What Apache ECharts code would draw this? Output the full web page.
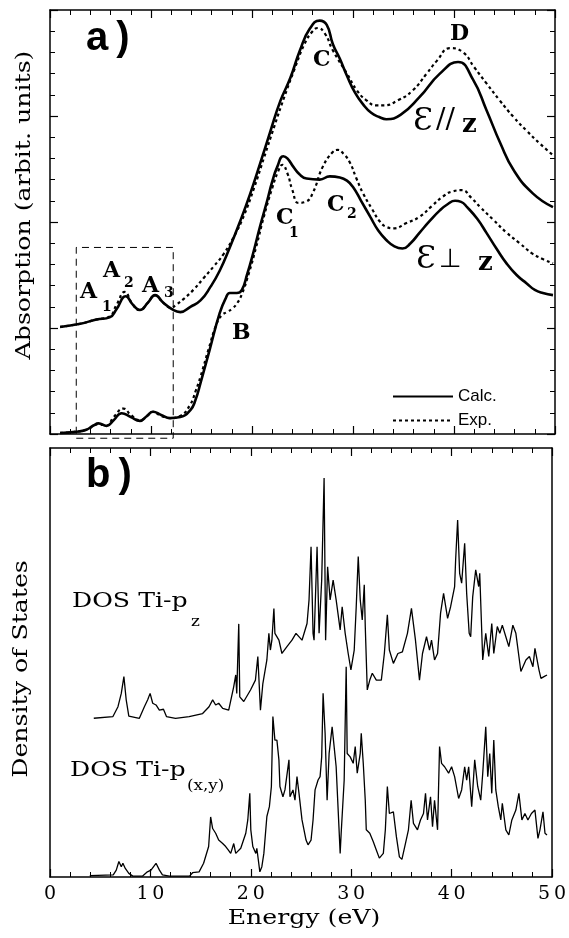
<!DOCTYPE html>
<html><head><meta charset="utf-8">
<script src="https://cdn.jsdelivr.net/npm/echarts@6/dist/echarts.min.js"></script>
<style>html,body{margin:0;padding:0;background:#fff}#c{width:569px;height:938px}</style>
</head><body><div id="c"></div>
<script>
// ---------- tick labels ----------
const xTickLabels = ['0', '10', '20', '30', '40', '50'];
const legendNames = ['Calc.', 'Exp.'];

// ---------- panel a : absorption, E // z ----------
const parCalcE = [1.0, 3.0, 4.6, 5.9, 6.6, 7.5, 8.2, 8.9, 9.7, 10.4, 11.2, 12.2, 12.9, 13.9, 14.9, 15.9, 16.8, 17.8, 18.8, 19.8, 20.8, 21.8, 22.8, 23.8, 24.75, 25.7, 26.7, 27.4, 28.0, 28.7, 29.4, 30.2, 31.0, 31.8, 32.6, 33.3, 34.7, 36.6, 38.6, 40.4, 41.9, 43.2, 44.6, 45.9, 47.8, 49.8];
const parCalcY = [5.05, 5.2, 5.4, 5.5, 5.9, 6.5, 6.1, 5.85, 6.2, 6.55, 6.2, 5.85, 5.75, 6.0, 6.3, 6.95, 7.7, 8.8, 10.0, 11.3, 12.75, 14.25, 15.7, 16.8, 18.1, 19.1, 19.5, 19.3, 18.4, 17.7, 16.9, 16.1, 15.55, 15.15, 14.95, 14.85, 15.05, 15.9, 17.0, 17.55, 16.7, 15.3, 13.7, 12.45, 11.35, 10.7];
const parExpE = [1.0, 3.0, 4.6, 5.9, 6.6, 7.4, 8.2, 8.9, 9.7, 10.4, 11.2, 12.0, 12.5, 13.3, 14.2, 15.2, 16.2, 17.2, 18.2, 19.2, 20.2, 21.2, 22.2, 23.2, 24.2, 25.2, 26.0, 26.5, 27.2, 28.0, 29.4, 30.4, 31.3, 32.3, 33.0, 34.5, 35.9, 37.3, 38.3, 39.6, 40.9, 42.0, 43.2, 44.5, 45.9, 47.2, 48.5, 49.8];
const parExpY = [5.05, 5.2, 5.4, 5.55, 6.1, 6.7, 6.1, 5.85, 6.2, 6.55, 6.2, 5.95, 6.1, 6.4, 6.8, 7.35, 7.9, 8.5, 9.3, 10.3, 11.6, 13.05, 14.5, 15.9, 17.2, 18.4, 19.0, 19.15, 18.9, 18.1, 17.0, 16.2, 15.75, 15.5, 15.5, 15.75, 16.2, 17.0, 17.6, 18.2, 18.0, 17.3, 16.55, 15.75, 14.95, 14.3, 13.7, 13.15];

// ---------- panel a : absorption, E perp z ----------
const perpCalcE = [1.0, 2.5, 3.6, 4.3, 4.8, 5.6, 6.3, 7.1, 8.0, 8.9, 9.6, 10.2, 11.0, 11.9, 12.9, 13.9, 14.4, 14.9, 15.8, 16.8, 17.4, 17.8, 18.5, 19.0, 19.5, 20.1, 20.8, 21.5, 22.0, 22.5, 23.1, 23.5, 24.1, 24.7, 25.4, 26.7, 27.7, 28.7, 29.4, 30.0, 30.8, 31.7, 32.5, 33.3, 34.1, 34.9, 35.7, 36.6, 37.6, 38.6, 39.4, 40.1, 40.7, 41.3, 42.3, 43.2, 44.2, 45.2, 46.2, 47.2, 48.0, 48.8, 49.8];
const perpCalcY = [0.05, 0.1, 0.2, 0.4, 0.5, 0.38, 0.65, 0.98, 0.8, 0.62, 0.85, 1.05, 0.9, 0.75, 0.8, 1.13, 1.6, 2.4, 3.96, 5.7, 6.4, 6.65, 6.65, 6.8, 7.5, 8.5, 9.8, 11.0, 11.9, 12.6, 13.1, 13.0, 12.6, 12.25, 12.05, 12.0, 12.15, 12.1, 11.95, 11.65, 11.0, 10.25, 9.6, 9.15, 8.85, 8.75, 9.0, 9.5, 10.05, 10.55, 10.85, 11.0, 10.95, 10.7, 10.15, 9.5, 8.75, 8.05, 7.5, 7.1, 6.8, 6.65, 6.55];
const perpExpE = [1.0, 2.5, 3.6, 4.8, 5.6, 6.3, 7.3, 8.0, 8.9, 9.6, 10.2, 11.0, 11.9, 12.9, 13.9, 14.4, 14.9, 15.7, 16.5, 17.0, 17.5, 18.0, 18.5, 19.0, 19.7, 20.4, 21.2, 22.0, 22.6, 23.0, 23.5, 24.0, 24.6, 25.3, 26.0, 27.0, 28.0, 28.5, 29.1, 29.7, 30.3, 31.0, 31.9, 32.7, 33.4, 34.0, 35.3, 36.6, 37.8, 38.9, 39.9, 40.8, 41.7, 42.6, 43.9, 45.2, 46.5, 47.8, 48.8, 49.8];
const perpExpY = [0.05, 0.1, 0.2, 0.45, 0.4, 0.8, 1.2, 0.9, 0.65, 0.85, 1.05, 0.85, 0.75, 0.85, 1.4, 2.0, 2.7, 4.0, 5.2, 5.6, 5.75, 5.9, 6.15, 6.6, 7.6, 8.8, 10.3, 11.6, 12.4, 12.7, 12.3, 11.5, 10.9, 10.95, 11.35, 12.6, 13.3, 13.4, 13.2, 12.8, 12.1, 11.35, 10.6, 10.0, 9.75, 9.7, 9.95, 10.25, 10.75, 11.2, 11.45, 11.5, 11.15, 10.7, 10.1, 9.5, 9.0, 8.5, 8.25, 8.05];

// ---------- panel a : dashed box around the A features (energy range, intensity range) ----------
const boxE = [2.6, 12.2];
const boxY = [-0.2, 8.8];

// ---------- panel b : DOS Ti-pz ----------
const dosZE = [4.36, 6.27, 6.77, 7.1, 7.36, 7.59, 7.85, 8.9, 9.4, 9.73, 9.97, 10.23, 10.56, 10.89, 11.3, 11.6, 12.5, 13.86, 15.2, 15.84, 16.2, 16.5, 16.8, 17.2, 17.8, 18.3, 18.5, 18.6, 18.8, 18.9, 19.3, 19.97, 20.46, 20.7, 20.96, 21.2, 21.6, 21.8, 21.95, 22.1, 22.3, 22.4, 22.8, 23.1, 23.6, 24.1, 24.5, 25.1, 25.6, 25.8, 26.0, 26.2, 26.3, 26.6, 26.8, 27.06, 27.3, 27.45, 27.65, 27.9, 28.0, 28.2, 28.5, 28.9, 29.1, 29.4, 29.7, 29.97, 30.3, 30.5, 30.7, 30.9, 31.1, 31.3, 31.4, 31.6, 31.85, 32.1, 32.5, 33.0, 33.3, 33.6, 33.8, 34.2, 34.65, 35.1, 35.6, 36.0, 36.4, 36.8, 37.1, 37.5, 37.8, 38.0, 38.3, 38.6, 38.9, 39.2, 39.6, 39.9, 40.3, 40.4, 40.6, 40.8, 41.0, 41.3, 41.5, 41.75, 41.9, 42.1, 42.4, 42.7, 42.8, 43.1, 43.4, 43.7, 44.0, 44.2, 44.55, 44.8, 45.05, 45.4, 45.7, 46.1, 46.4, 46.9, 47.4, 47.75, 48.1, 48.3, 48.7, 48.9, 49.2, 49.5];
const dosZY = [37.0, 37.4, 39.7, 42.8, 46.7, 41.3, 37.5, 37.0, 39.7, 41.3, 42.8, 40.5, 40.1, 38.9, 39.1, 37.4, 37.0, 37.4, 38.1, 39.7, 41.3, 40.1, 40.5, 39.3, 38.9, 44.4, 47.1, 42.8, 59.0, 42.0, 40.9, 43.6, 45.9, 51.4, 38.9, 45.1, 50.6, 56.8, 52.9, 55.2, 62.6, 56.8, 55.2, 52.1, 53.7, 55.2, 56.8, 55.2, 59.1, 64.6, 77.0, 56.8, 55.2, 77.0, 56.8, 69.2, 93.0, 55.2, 72.3, 64.6, 66.1, 69.2, 64.6, 57.6, 63.0, 56.8, 52.1, 48.3, 52.9, 63.0, 74.7, 64.6, 59.9, 68.1, 58.4, 43.6, 45.9, 47.5, 45.9, 45.9, 52.1, 61.1, 52.9, 49.8, 52.1, 52.5, 56.8, 62.6, 55.2, 45.9, 52.1, 56.0, 52.9, 55.2, 50.6, 52.1, 61.5, 66.1, 60.3, 63.0, 67.7, 73.9, 83.2, 70.8, 68.5, 77.8, 66.1, 56.8, 56.0, 65.3, 71.6, 67.7, 70.8, 50.6, 56.8, 51.4, 59.1, 52.1, 58.4, 56.8, 58.7, 56.0, 53.7, 58.7, 56.8, 47.9, 50.6, 51.4, 49.0, 53.3, 48.3, 46.3, 46.7, 47.1];

// ---------- panel b : DOS Ti-p(x,y) ----------
const dosXYE = [3.96, 6.3, 6.6, 6.86, 7.1, 7.26, 7.5, 7.85, 8.25, 9.2, 9.7, 10.06, 10.56, 10.9, 11.2, 11.9, 13.9, 14.2, 14.85, 15.3, 15.8, 16.0, 16.2, 16.5, 16.8, 17.2, 17.5, 17.75, 18.0, 18.3, 18.5, 19.0, 19.5, 19.7, 19.9, 20.0, 20.2, 20.5, 20.6, 20.9, 21.1, 21.3, 21.6, 21.85, 22.05, 22.2, 22.4, 22.6, 22.8, 22.9, 23.2, 23.4, 23.8, 23.9, 24.2, 24.4, 24.6, 24.8, 25.1, 25.5, 25.7, 26.0, 26.2, 26.4, 26.7, 26.9, 27.06, 27.2, 27.4, 27.6, 27.8, 28.1, 28.5, 28.9, 29.0, 29.3, 29.5, 29.6, 29.9, 30.2, 30.4, 30.6, 30.9, 31.0, 31.2, 31.4, 31.5, 31.85, 32.2, 32.5, 32.8, 33.2, 33.4, 33.6, 33.8, 34.2, 34.5, 34.8, 35.05, 35.4, 35.7, 35.97, 36.2, 36.6, 36.9, 37.2, 37.4, 37.6, 37.9, 38.1, 38.3, 38.6, 38.8, 39.0, 39.3, 39.7, 40.0, 40.3, 40.7, 41.0, 41.3, 41.5, 41.7, 42.0, 42.3, 42.6, 42.9, 43.1, 43.4, 43.6, 43.8, 44.0, 44.2, 44.4, 44.65, 44.9, 45.05, 45.4, 45.7, 46.0, 46.4, 46.7, 47.0, 47.3, 47.6, 47.95, 48.3, 48.6, 48.8, 49.1, 49.3, 49.5];
const dosXYY = [0.3, 0.5, 1.6, 3.6, 2.4, 3.2, 2.0, 0.85, 0.2, 0.2, 1.2, 1.6, 3.2, 1.6, 0.5, 0.2, 0.2, 1.0, 1.2, 3.2, 7.1, 14.0, 11.3, 10.2, 8.6, 7.8, 7.1, 6.3, 5.5, 7.8, 5.5, 6.7, 10.2, 13.3, 19.5, 11.0, 7.1, 5.5, 6.7, 1.2, 2.4, 5.5, 14.1, 16.4, 21.1, 37.4, 31.9, 31.9, 27.3, 21.1, 18.7, 20.3, 27.3, 18.7, 20.3, 17.9, 23.4, 19.5, 13.3, 8.6, 7.5, 8.6, 13.3, 20.3, 22.6, 23.4, 28.0, 42.8, 33.5, 17.9, 28.8, 35.0, 25.7, 5.5, 10.2, 22.6, 49.0, 28.8, 28.0, 26.5, 30.4, 24.2, 28.8, 33.5, 26.5, 17.9, 11.0, 10.2, 8.2, 6.3, 4.4, 5.5, 11.0, 21.1, 14.8, 15.2, 9.4, 4.7, 4.1, 7.8, 11.0, 17.9, 12.5, 11.0, 13.3, 14.8, 19.5, 13.3, 18.7, 11.7, 17.9, 11.0, 30.4, 26.5, 25.7, 24.2, 25.7, 23.4, 18.3, 20.3, 25.7, 22.6, 25.7, 16.4, 27.3, 21.1, 17.9, 24.2, 35.0, 23.4, 28.8, 19.5, 31.9, 20.3, 16.4, 13.3, 17.2, 11.0, 9.8, 13.3, 15.6, 19.5, 13.3, 14.8, 13.3, 14.8, 15.6, 9.0, 11.0, 15.2, 10.2, 9.8];

// ---------- build ----------
const zip = (xs, ys) => xs.map((x, i) => [x, ys[i]]);
const boxPath = [[boxE[0], boxY[0]], [boxE[1], boxY[0]], [boxE[1], boxY[1]], [boxE[0], boxY[1]], [boxE[0], boxY[0]]];

const K = '#000';
const serif = '"DejaVu Serif", "Liberation Serif", serif';
const sans = '"Liberation Sans", Arial, sans-serif';

function xAx(grid, pos, labels) {
  return {
    type: 'value', gridIndex: grid, position: pos, min: 0, max: 50, interval: 10,
    axisLine: { show: true, onZero: false, lineStyle: { color: K, width: 1.5 } },
    axisTick: { show: true, inside: true, length: 8, lineStyle: { color: K, width: 1.2 } },
    minorTick: { show: true, splitNumber: 5, length: 5, lineStyle: { color: K, width: 1 } },
    splitLine: { show: false },
    axisLabel: labels ? {
      show: true, margin: 8, color: K, fontFamily: serif, fontSize: 19,
      formatter: v => xTickLabels[Math.round(v / 10)].split('').join('\u2009')
    } : { show: false }
  };
}
function yAx(grid, pos, max, interval, ticks) {
  return {
    type: 'value', gridIndex: grid, position: pos, min: 0, max: max, interval: interval,
    axisLine: { show: true, onZero: false, lineStyle: { color: K, width: 1.5 } },
    axisTick: { show: ticks, inside: true, length: 8, lineStyle: { color: K, width: 1.2 } },
    minorTick: { show: ticks, splitNumber: 5, length: 5, lineStyle: { color: K, width: 1 } },
    splitLine: { show: false }, axisLabel: { show: false }
  };
}
function T(text, x, y, font, extra, align) {
  return Object.assign({ type: 'text', x: x, y: y, silent: true,
    style: { text: text, font: font, fill: K, align: align || 'left', verticalAlign: 'middle' } }, extra || {});
}

const calcLine = { color: K, width: 2.6, type: 'solid' };
const expLine = { color: K, width: 2.2, type: [3, 3] };
function curve(name, data, style, xi, yi, smooth) {
  return { name: name, type: 'line', xAxisIndex: xi, yAxisIndex: yi, data: data, symbol: 'none',
    showSymbol: false, smooth: smooth,
    lineStyle: style, itemStyle: { color: K }, animation: false, z: 3 };
}

const bA = 'bold 22px ' + serif, bS = 'bold 14px ' + serif;
const graphics = [
  T('a\u2009)', 86, 39, 'bold 40px ' + sans),
  T('b\u2009)', 86, 476, 'bold 40px ' + sans),
  T('Absorption (arbit. units)', 25, 205, '21px ' + serif, { rotation: Math.PI / 2, scaleX: 1.2 }, 'center'),
  T('Density of States', 22, 669, '21px ' + serif, { rotation: Math.PI / 2, scaleX: 1.2 }, 'center'),
  T('Energy (eV)', 304, 919, '21px ' + serif, { scaleX: 1.2 }, 'center'),
  T('A', 80, 292, bA), T('1', 102, 307, bS),
  T('A', 103, 271, bA), T('2', 124, 283, bS),
  T('A', 142, 286, bA), T('3', 164, 293, bS),
  T('B', 232, 333, bA),
  T('C', 313, 60, bA),
  T('C', 276, 218, bA), T('1', 289, 233, bS),
  T('C', 327, 205, bA), T('2', 347, 214, bS),
  T('D', 450, 34, bA),
  T('\u0190', 413, 122, '32px ' + serif), T('//', 436, 121, '28px ' + serif), T('z', 462, 125, 'bold 26px ' + serif),
  T('\u0190', 416, 260, '32px ' + serif), T('\u22A5', 439, 260, '26px "DejaVu Sans", sans-serif'), T('z', 478, 263, 'bold 26px ' + serif),
  T('DOS Ti-p', 72, 602, '21px ' + serif, { scaleX: 1.2 }), T('z', 191, 622, '14px ' + serif, { scaleX: 1.2 }),
  T('DOS Ti-p', 70, 771, '21px ' + serif, { scaleX: 1.2 }), T('(x,y)', 187, 786, '14px ' + serif, { scaleX: 1.2 })
];

const chart = echarts.init(document.getElementById('c'), null, { renderer: 'canvas' });
chart.setOption({
  backgroundColor: '#fff',
  animation: false,
  grid: [
    { left: 50, right: 14, top: 10, height: 424, containLabel: false },
    { left: 50, right: 14, top: 448, height: 429, containLabel: false }
  ],
  xAxis: [xAx(0, 'bottom', false), xAx(0, 'top', false), xAx(1, 'bottom', true), xAx(1, 'top', false)],
  yAxis: [yAx(0, 'left', 20, 5, true), yAx(0, 'right', 20, 5, true), yAx(1, 'left', 100, 50, false), yAx(1, 'right', 100, 50, false)],
  legend: {
    show: true, data: legendNames, orient: 'vertical', left: 387, top: 383,
    itemWidth: 60, itemHeight: 14, itemGap: 7, selectedMode: false,
    itemStyle: { opacity: 0 },
    textStyle: { color: K, fontFamily: sans, fontSize: 17 }
  },
  series: [
    curve('Calc.', zip(parCalcE, parCalcY), calcLine, 0, 0, 0.5),
    curve('Exp.', zip(parExpE, parExpY), expLine, 0, 0, 0.5),
    curve('Calc.', zip(perpCalcE, perpCalcY), calcLine, 0, 0, 0.5),
    curve('Exp.', zip(perpExpE, perpExpY), expLine, 0, 0, 0.5),
    Object.assign(curve('box', boxPath, { color: K, width: 1, type: [7, 5] }, 0, 0, false), { clip: false, z: 2 }),
    curve('DOS Ti-pz', zip(dosZE, dosZY), { color: K, width: 1.3 }, 2, 2, false),
    curve('DOS Ti-p(x,y)', zip(dosXYE, dosXYY), { color: K, width: 1.3 }, 2, 2, false)
  ],
  graphic: graphics
});
</script>
</body></html>
